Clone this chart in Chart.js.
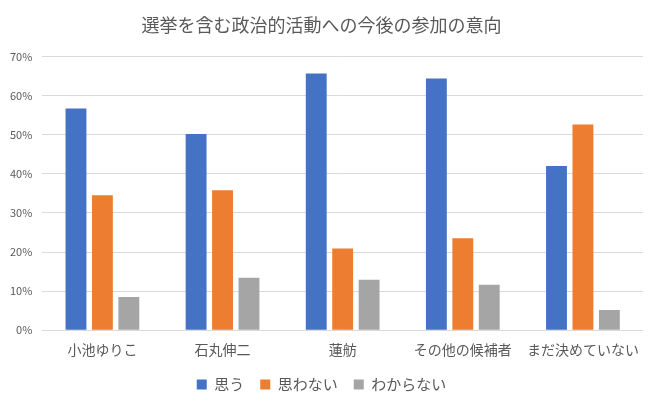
<!DOCTYPE html>
<html>
<head>
<meta charset="utf-8">
<script src="https://cdn.jsdelivr.net/npm/chart.js@4/dist/chart.umd.min.js"></script>
<style>
  body { margin: 0; background: #fff; }
  #wrap { width: 657px; height: 409px; }
</style>
</head>
<body>
<div id="wrap"><canvas id="chart" width="657" height="409"></canvas></div>
<script>
// 候補者ごとの回答割合 (%)
const categories = ['小池ゆりこ', '石丸伸二', '蓮舫', 'その他の候補者', 'まだ決めていない'];
const yesValues = [56.7, 50.2, 65.7, 64.4, 42.0];
const noValues = [34.5, 35.8, 20.9, 23.5, 52.6];
const unknownValues = [8.5, 13.4, 12.9, 11.6, 5.2];
const seriesNames = ['思う', '思わない', 'わからない'];

const font = '"Noto Sans CJK JP", "Noto Sans", sans-serif';
const textColor = '#595959';

const ctx = document.getElementById('chart').getContext('2d');

const chart = new Chart(ctx, {
    type: 'bar',
    data: {
        labels: categories,
        datasets: [
            { label: seriesNames[0], data: yesValues, backgroundColor: '#4472C4' },
            { label: seriesNames[1], data: noValues, backgroundColor: '#ED7D31' },
            { label: seriesNames[2], data: unknownValues, backgroundColor: '#A5A5A5' }
        ]
    },
    options: {
        responsive: false,
        animation: false,
        categoryPercentage: 0.66,
        barPercentage: 0.79,
        layout: { padding: { left: 0, right: 14, top: 0, bottom: 7 } },
        scales: {
            x: {
                grid: { display: false },
                border: { display: false },
                ticks: { color: textColor, font: { family: font, size: 14 }, padding: 3, maxRotation: 0, autoSkip: false }
            },
            y: {
                min: 0,
                max: 70,
                ticks: {
                    stepSize: 10,
                    color: textColor,
                    font: { family: font, size: 11 },
                    padding: 10,
                    callback: function(value) { return value + '%'; }
                },
                grid: { color: '#D9D9D9', lineWidth: 1, drawTicks: false },
                border: { display: false }
            }
        },
        plugins: {
            title: {
                display: true,
                text: '選挙を含む政治的活動への今後の参加の意向',
                color: textColor,
                font: { family: font, size: 18, weight: 'normal' },
                padding: { top: 14, bottom: 21 }
            },
            legend: {
                position: 'bottom',
                labels: {
                    color: textColor,
                    font: { family: font, size: 15 },
                    boxWidth: 10,
                    boxHeight: 10,
                    padding: 16
                }
            },
            tooltip: { enabled: false }
        }
    }
});
</script>
</body>
</html>
